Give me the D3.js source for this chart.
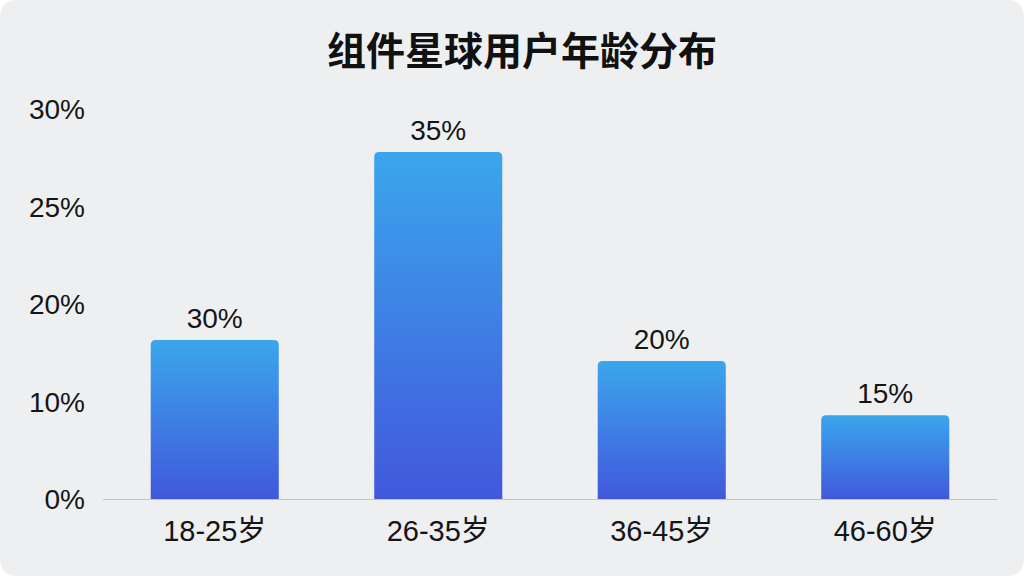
<!DOCTYPE html>
<html><head><meta charset="utf-8">
<script src="https://cdn.jsdelivr.net/npm/d3@7"></script>
<style>html,body{margin:0;padding:0;background:#fff;}svg{display:block;}</style>
</head><body>
<svg id="c" width="1024" height="576"></svg>
<script>
const title = "组件星球用户年龄分布";
const categories = ["18-25岁", "26-35岁", "36-45岁", "46-60岁"];
const barValues = [16.3, 35.6, 14.15, 8.6];           // bar heights as drawn, in axis units
const valueLabels = ["30%", "35%", "20%", "15%"];     // labels printed above bars
const tickValues = [0, 10, 20, 30, 40];
const tickLabels = ["0%", "10%", "20%", "25%", "30%"];

const svg = d3.select("#c");
const font = "'Liberation Sans','Noto Sans CJK SC',sans-serif";
const tfont = "'Noto Sans CJK SC',sans-serif";
svg.append("rect").attr("x",0).attr("y",0).attr("width",1024).attr("height",576)
  .attr("rx",16).attr("fill","#eeeff1");

const defs = svg.append("defs");
const g = defs.append("linearGradient").attr("id","bg").attr("x1",0).attr("y1",0).attr("x2",0).attr("y2",1);
g.append("stop").attr("offset","0%").attr("stop-color","#3ba6ec");
g.append("stop").attr("offset","100%").attr("stop-color","#4158dc");

const x = d3.scaleBand().domain(categories).range([103,997]).paddingInner(0.427).paddingOuter(0.2135);
const y = d3.scaleLinear().domain([0,40]).range([499,109]);

svg.append("text").attr("x",522).attr("y",65).attr("text-anchor","middle")
  .attr("font-family",tfont).attr("font-weight",700).attr("font-size",39).attr("fill","#111")
  .text(title);

// y tick labels
svg.append("g").selectAll("text").data(tickValues).join("text")
  .attr("x",85).attr("y",d=>y(d)).attr("dy","0.36em").attr("text-anchor","end")
  .attr("font-family",font).attr("font-size",28).attr("fill","#151515")
  .text((d,i)=>tickLabels[i]);

// baseline
svg.append("line").attr("x1",103).attr("x2",997).attr("y1",y(0)+0.5).attr("y2",y(0)+0.5)
  .attr("stroke","#c4c4c6").attr("stroke-width",1);

const r = 5;
svg.append("g").selectAll("path").data(barValues).join("path")
  .attr("fill","url(#bg)")
  .attr("d",(d,i)=>{
    const x0 = x(categories[i]), w = x.bandwidth(), y0 = y(d), yb = y(0);
    return `M${x0},${yb}V${y0+r}Q${x0},${y0} ${x0+r},${y0}H${x0+w-r}Q${x0+w},${y0} ${x0+w},${y0+r}V${yb}Z`;
  });

svg.append("g").selectAll("text").data(barValues).join("text")
  .attr("x",(d,i)=>x(categories[i])+x.bandwidth()/2).attr("y",d=>y(d)-12)
  .attr("text-anchor","middle").attr("font-family",font).attr("font-size",28).attr("fill","#151515")
  .text((d,i)=>valueLabels[i]);

svg.append("g").selectAll("text").data(categories).join("text")
  .attr("x",d=>x(d)+x.bandwidth()/2).attr("y",541)
  .attr("text-anchor","middle").attr("font-family",font).attr("font-size",29).attr("fill","#151515")
  .text(d=>d);
</script>
</body></html>
